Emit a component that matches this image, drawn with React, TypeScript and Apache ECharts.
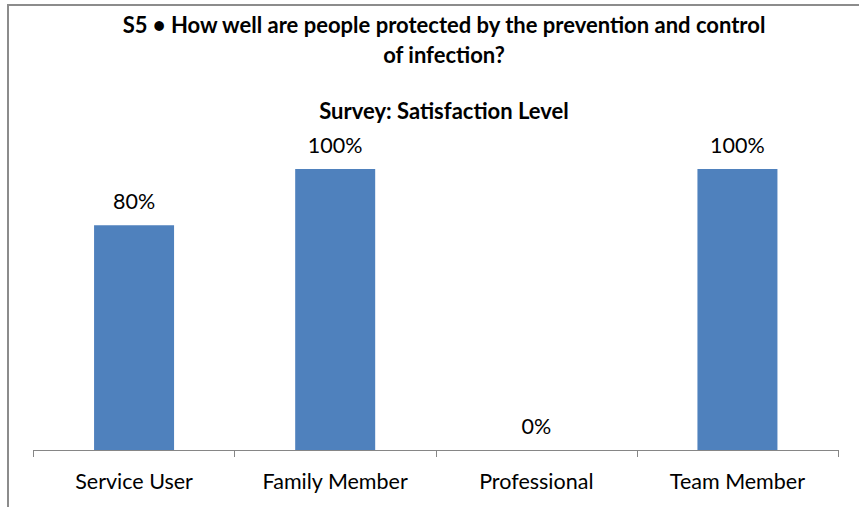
import React, { useEffect, useRef } from "react";
import * as echarts from "echarts";

const titleText = "S5 • How well are people protected by the prevention and control\nof infection?";
const subtitleText = "Survey: Satisfaction Level";
const categories = ["Service User", "Family Member", "Professional", "Team Member"];
const values = [0.8, 1.0, 0.0, 1.0];

const FONT = "Lato";

export default function App() {
  const ref = useRef<HTMLDivElement>(null);
  useEffect(() => {
    if (!ref.current) return;
    const chart = echarts.init(ref.current, undefined, { renderer: "svg" });
    chart.setOption({
      animation: false,
      backgroundColor: "#ffffff",
      graphic: [
        {
          type: "rect",
          shape: { x: 8, y: 5, width: 900, height: 600 },
          style: { fill: "none", stroke: "#8c8c8c", lineWidth: 2 },
          silent: true,
          z: -1,
        },
      ],
      title: [
        {
          text: titleText,
          left: 439,
          top: 4,
          textAlign: "center",
          textStyle: {
            fontFamily: FONT,
            fontWeight: "bold",
            fontSize: 22,
            lineHeight: 30,
            color: "#000",
          },
        },
        {
          text: subtitleText,
          left: 439,
          top: 94,
          textAlign: "center",
          textStyle: {
            fontFamily: FONT,
            fontWeight: "bold",
            fontSize: 22,
            color: "#000",
          },
        },
      ],
      grid: { left: 33.5, right: 21, top: 169, bottom: 57, containLabel: false },
      xAxis: {
        type: "category",
        data: categories,
        axisLine: { lineStyle: { color: "#868686", width: 1 } },
        axisTick: { show: true, length: 7, lineStyle: { color: "#868686" } },
        axisLabel: {
          fontFamily: FONT,
          fontSize: 21.5,
          color: "#000",
          margin: 20,
          interval: 0,
        },
      },
      yAxis: {
        type: "value",
        min: 0,
        max: 1,
        show: false,
        splitLine: { show: false },
      },
      series: [
        {
          type: "bar",
          data: values,
          barWidth: 80,
          itemStyle: { color: "#4F81BD" },
          label: {
            show: true,
            position: "top",
            distance: 13,
            fontFamily: FONT,
            fontSize: 21.5,
            color: "#000",
            formatter: (p: any) => Math.round(p.value * 100) + "%",
          },
        },
      ],
    });
    return () => chart.dispose();
  }, []);
  return (
    <div
      ref={ref}
      style={{ position: "absolute", left: 0, top: 0, width: 859, height: 507 }}
    />
  );
}
